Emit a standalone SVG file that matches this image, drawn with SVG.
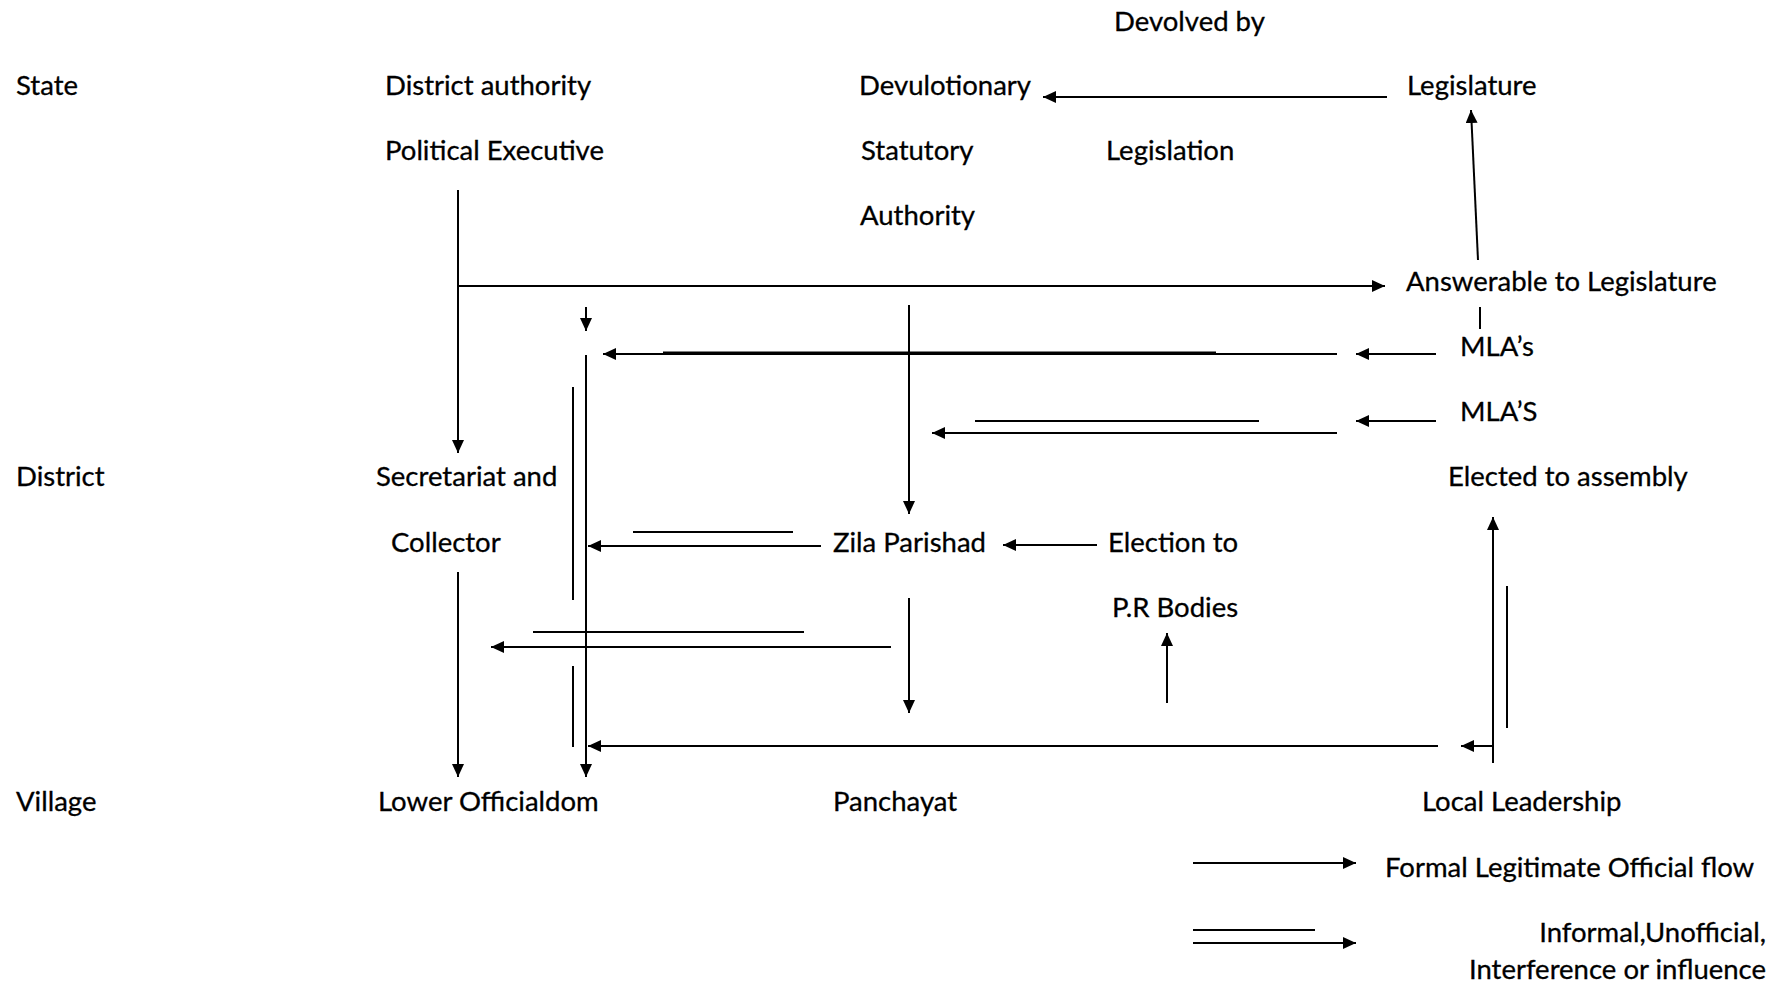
<svg xmlns="http://www.w3.org/2000/svg" width="1782" height="987" viewBox="0 0 1782 987">
<style>
text{font-family:Lato,"Liberation Sans",sans-serif;font-size:27.5px;fill:#000;stroke:#000;stroke-width:0.3}
.c line{stroke:#000;stroke-width:2;fill:none}
.a{marker-end:url(#ah)}
</style>
<defs>
<marker id="ah" markerUnits="userSpaceOnUse" markerWidth="14" markerHeight="12" refX="13" refY="6" orient="auto">
<path d="M0,0 L13,6 L0,12 Z" fill="#000"/>
</marker>
</defs>
<rect width="1782" height="987" fill="#fff"/>
<g id="n-devolved"><text x="1114" y="31">Devolved by</text></g>
<g id="n-state"><text x="16" y="95">State</text></g>
<g id="n-district-authority"><text x="385" y="95">District authority</text></g>
<g id="n-devulotionary"><text x="859" y="95">Devulotionary</text></g>
<g id="n-legislature"><text x="1407" y="95">Legislature</text></g>
<g id="n-political"><text x="385" y="160">Political Executive</text></g>
<g id="n-statutory"><text x="861" y="160">Statutory</text></g>
<g id="n-legislation"><text x="1106" y="160">Legislation</text></g>
<g id="n-authority"><text x="860" y="225">Authority</text></g>
<g id="n-answerable"><text x="1406" y="291">Answerable to Legislature</text></g>
<g id="n-mlas1"><text x="1460" y="356">MLA’s</text></g>
<g id="n-mlas2"><text x="1460" y="421">MLA’S</text></g>
<g id="n-district"><text x="16" y="486">District</text></g>
<g id="n-secretariat"><text x="376" y="486">Secretariat and</text></g>
<g id="n-elected"><text x="1448" y="486">Elected to assembly</text></g>
<g id="n-collector"><text x="391" y="552">Collector</text></g>
<g id="n-zila"><text x="833" y="552">Zila Parishad</text></g>
<g id="n-election"><text x="1108" y="552">Election to</text></g>
<g id="n-pr"><text x="1112" y="617">P.R Bodies</text></g>
<g id="n-village"><text x="16" y="811">Village</text></g>
<g id="n-lower"><text x="378" y="811">Lower Officialdom</text></g>
<g id="n-panchayat"><text x="833" y="811">Panchayat</text></g>
<g id="n-local"><text x="1422" y="811">Local Leadership</text></g>
<g id="legend">
<text x="1385" y="877">Formal Legitimate Official flow</text>
<text x="1766" y="942" text-anchor="end">Informal,Unofficial,</text>
<text x="1766" y="979" text-anchor="end">Interference or influence</text>
</g>
<g id="connectors" class="c">
<line class="a" x1="1387" y1="97" x2="1043" y2="97"/>
<line class="a" x1="1478" y1="260" x2="1471" y2="110"/>
<line class="a" x1="458" y1="190" x2="458" y2="453"/>
<line class="a" x1="458" y1="286" x2="1385" y2="286"/>
<line class="a" x1="586" y1="307" x2="586" y2="331"/>
<line x1="1480" y1="307" x2="1480" y2="329"/>
<line class="a" x1="586" y1="355" x2="586" y2="777"/>
<line x1="573" y1="387" x2="573" y2="600"/>
<line x1="573" y1="666" x2="573" y2="747"/>
<line class="a" x1="1337" y1="354" x2="603" y2="354"/>
<line x1="663" y1="352.5" x2="1216" y2="352.5"/>
<line class="a" x1="1436" y1="354" x2="1356" y2="354"/>
<line class="a" x1="1436" y1="421" x2="1356" y2="421"/>
<line x1="975" y1="421" x2="1259" y2="421"/>
<line class="a" x1="1337" y1="433" x2="932" y2="433"/>
<line class="a" x1="909" y1="305" x2="909" y2="514"/>
<line x1="633" y1="532" x2="793" y2="532"/>
<line class="a" x1="821" y1="546" x2="588" y2="546"/>
<line class="a" x1="1097" y1="545" x2="1003" y2="545"/>
<line x1="533" y1="632" x2="804" y2="632"/>
<line class="a" x1="891" y1="647" x2="491" y2="647"/>
<line class="a" x1="909" y1="598" x2="909" y2="713"/>
<line class="a" x1="1167" y1="703" x2="1167" y2="633"/>
<line class="a" x1="458" y1="572" x2="458" y2="777"/>
<line class="a" x1="1438" y1="746" x2="588" y2="746"/>
<line class="a" x1="1493" y1="746" x2="1461" y2="746"/>
<line class="a" x1="1493" y1="763" x2="1493" y2="517"/>
<line x1="1507" y1="586" x2="1507" y2="728"/>
<line class="a" x1="1193" y1="863" x2="1356" y2="863"/>
<line x1="1193" y1="930" x2="1315" y2="930"/>
<line class="a" x1="1193" y1="943" x2="1356" y2="943"/>
</g>
</svg>
